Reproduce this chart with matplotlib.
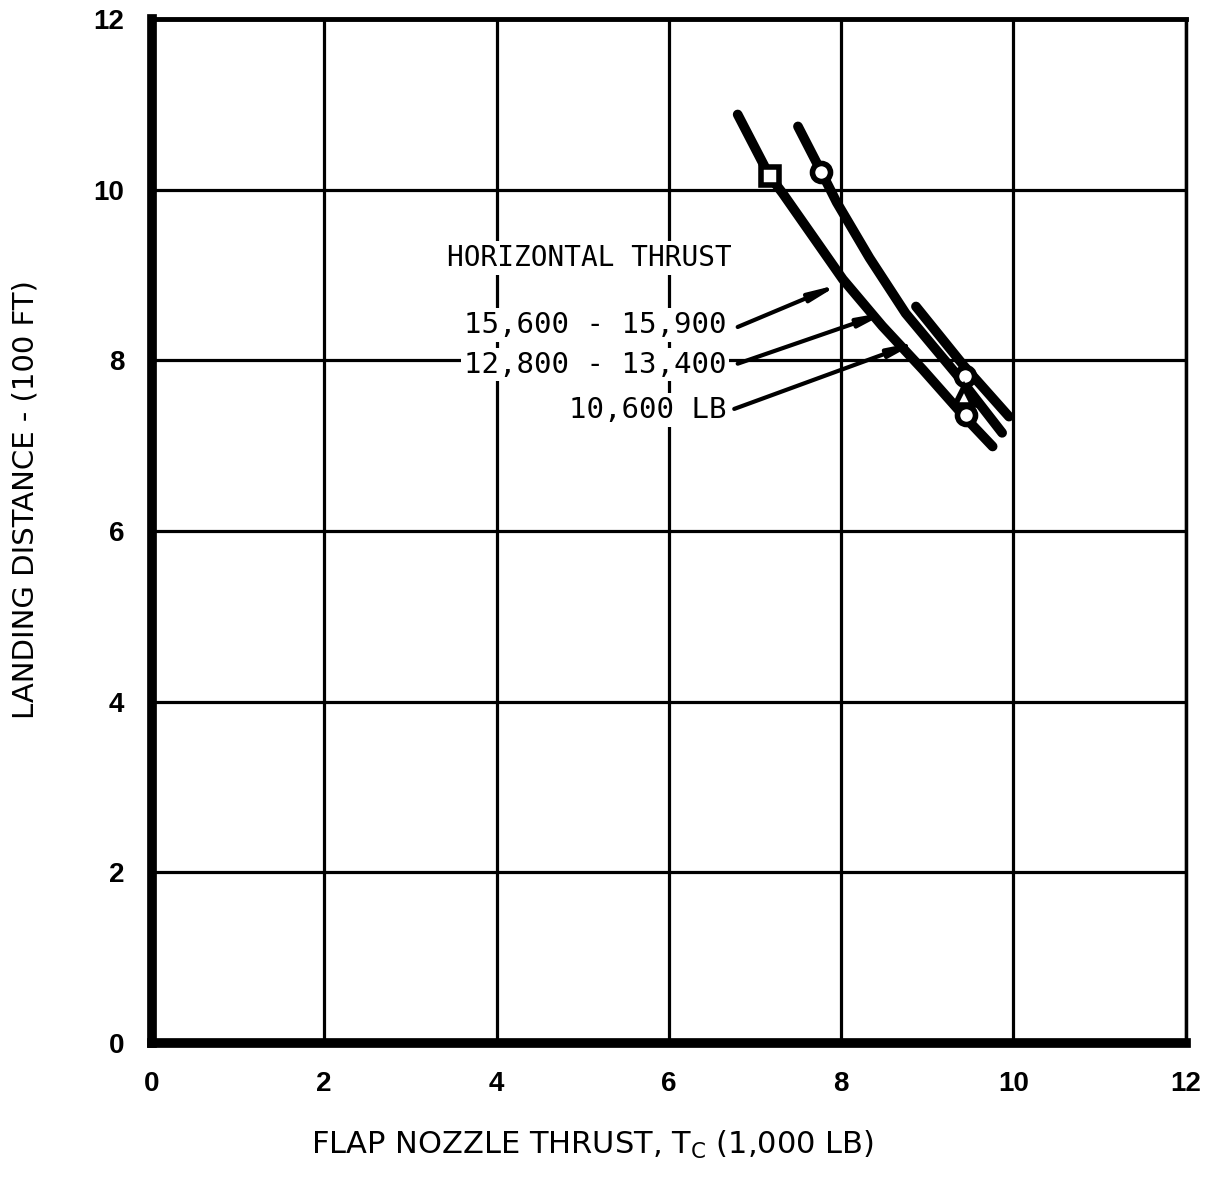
import matplotlib
matplotlib.use("Agg")
import matplotlib.pyplot as plt

# ---- data ----
curve_a_x = [6.80, 7.17, 7.32, 7.75, 8.02, 8.48, 8.95, 9.45, 9.76]
curve_a_y = [10.88, 10.16, 9.96, 9.34, 8.95, 8.40, 7.89, 7.32, 6.99]
curve_b_x = [7.50, 7.77, 7.95, 8.33, 8.75, 9.37, 9.87]
curve_b_y = [10.74, 10.21, 9.85, 9.20, 8.55, 7.80, 7.15]
curve_c_x = [8.87, 9.43, 9.95]
curve_c_y = [8.63, 7.93, 7.34]

square_pts = [(7.17, 10.16)]
circle_pts = [(7.77, 10.21), (9.44, 7.82), (9.45, 7.36)]
triangle_pts = [(9.43, 7.58)]

x_ticks = [0, 2, 4, 6, 8, 10, 12]
y_ticks = [0, 2, 4, 6, 8, 10, 12]

label_lines = ["15,600 - 15,900", "12,800 - 13,400", "10,600 LB"]
label_pos = [(6.67, 8.41), (6.67, 7.95), (6.67, 7.42)]
arrow_tails = [(6.80, 8.39), (6.80, 7.96), (6.76, 7.43)]
arrow_heads = [(7.98, 8.89), (8.55, 8.57), (8.90, 8.22)]

fig = plt.figure(figsize=(12.11, 11.82), dpi=100)
ax = fig.add_axes([0.1255, 0.1176, 0.8535, 0.8664])
ax.set_xlim(0, 12)
ax.set_ylim(0, 12)
ax.set_xticks(x_ticks)
ax.set_yticks(y_ticks)
ax.grid(True, color="black", linewidth=2.3)
ax.set_axisbelow(True)
ax.tick_params(length=0, pad=20, labelsize=20)
for lab in ax.get_xticklabels() + ax.get_yticklabels():
    lab.set_fontweight("bold")
    lab.set_family("Liberation Sans")
ax.spines["left"].set_linewidth(7)
ax.spines["bottom"].set_linewidth(7)
ax.spines["top"].set_linewidth(3.5)
ax.spines["right"].set_linewidth(2.5)

lw = 7
for cx, cy in [(curve_a_x, curve_a_y), (curve_b_x, curve_b_y), (curve_c_x, curve_c_y)]:
    ax.plot(cx, cy, color="black", lw=lw, solid_capstyle="round",
            solid_joinstyle="round", zorder=3)

ms = 13
ax.plot([p[0] for p in square_pts], [p[1] for p in square_pts], "s", ms=ms,
        mfc="white", mec="black", mew=4, zorder=4)
ax.plot([p[0] for p in circle_pts], [p[1] for p in circle_pts], "o", ms=ms,
        mfc="white", mec="black", mew=4, zorder=4)
ax.plot([p[0] for p in triangle_pts], [p[1] for p in triangle_pts], "^", ms=ms,
        mfc="white", mec="black", mew=4, zorder=4)

mono = "DejaVu Sans Mono"
ax.text(5.08, 9.20, "HORIZONTAL THRUST", ha="center", va="center", fontsize=20,
        family=mono, zorder=5,
        bbox=dict(facecolor="white", edgecolor="none", pad=2))
for txt, (tx, ty) in zip(label_lines, label_pos):
    ax.text(tx, ty, txt, ha="right", va="center", fontsize=21, family=mono,
            zorder=5, bbox=dict(facecolor="white", edgecolor="none", pad=2))

for (x0, y0), (x1, y1) in zip(arrow_tails, arrow_heads):
    ax.annotate("", xy=(x1, y1), xytext=(x0, y0),
                arrowprops=dict(arrowstyle="-|>,head_length=1.6,head_width=0.25",
                                color="black", lw=3, shrinkA=0, shrinkB=0),
                zorder=4)

fig.text(0.489, 0.018, r"FLAP NOZZLE THRUST, T$_\mathregular{C}$ (1,000 LB)",
         ha="center", va="bottom", fontsize=22)
fig.text(0.021, 0.577, "LANDING DISTANCE - (100 FT)", rotation=90,
         ha="center", va="center", fontsize=21)

fig.savefig("out.png", dpi=100, facecolor="white")
